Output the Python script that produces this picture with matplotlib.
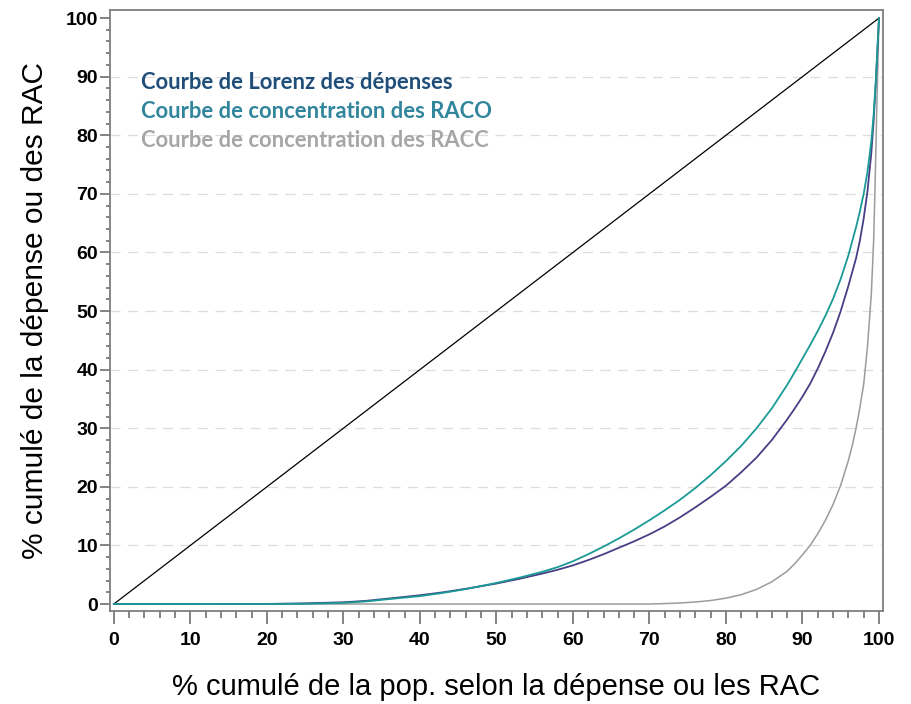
import matplotlib.pyplot as plt
from matplotlib.ticker import MultipleLocator

# Courbes (x = % cumulé de la population, y = % cumulé)
x_lorenz = [0, 10, 20, 25, 30, 33, 36, 40, 43, 46, 50, 53, 56, 58, 60, 62, 64,
            66, 68, 70, 72, 74, 76, 78, 80, 82, 84, 86, 88, 89, 90, 91, 92, 93,
            94, 95, 96, 97, 97.5, 98, 98.5, 99, 99.3, 99.6, 100]
y_lorenz = [0, 0, 0.02, 0.12, 0.3, 0.55, 0.95, 1.5, 2.0, 2.6, 3.5, 4.3, 5.2,
            5.85, 6.6, 7.5, 8.5, 9.6, 10.7, 11.9, 13.25, 14.8, 16.5, 18.3, 20.2,
            22.5, 25.0, 28.0, 31.5, 33.4, 35.4, 37.6, 40.2, 43.1, 46.3, 50.0,
            54.3, 59.0, 62.0, 65.8, 70.5, 77.0, 82.5, 89.5, 100]

x_raco = [0, 10, 20, 25, 30, 33, 36, 40, 43, 46, 50, 53, 56, 58, 60, 62, 64,
          66, 68, 70, 72, 74, 76, 78, 80, 82, 84, 86, 88, 89, 90, 91, 92, 93,
          94, 95, 96, 97, 97.5, 98, 98.5, 99, 99.3, 99.6, 100]
y_raco = [0, 0, 0, 0.05, 0.2, 0.45, 0.85, 1.35, 1.9, 2.55, 3.6, 4.5, 5.5, 6.3,
          7.3, 8.5, 9.8, 11.2, 12.7, 14.3, 16.0, 17.8, 19.8, 22.0, 24.4, 27.0,
          30.0, 33.4, 37.4, 39.6, 41.9, 44.2, 46.6, 49.2, 52.1, 55.5, 59.5,
          64.3, 67.0, 70.0, 73.8, 79.0, 83.5, 89.5, 100]

x_racc = [0, 10, 20, 30, 40, 50, 60, 70, 72, 74, 76, 78, 80, 82, 84, 86, 88, 89,
          90, 91, 92, 93, 94, 95, 96, 96.5, 97, 97.5, 98, 98.5, 99, 99.3, 99.5,
          99.7, 100]
y_racc = [0, 0, 0, 0, 0, 0, 0, 0, 0.08, 0.18, 0.35, 0.6, 1.0, 1.6, 2.5, 3.8,
          5.6, 6.9, 8.4, 10.0, 12.0, 14.3, 17.0, 20.3, 24.5, 27.0, 30.0, 33.5,
          37.5, 44.0, 53.0, 62.0, 72.0, 84.0, 100]

x_egalite = [0, 100]
y_egalite = [0, 100]

libelles = ["Courbe de Lorenz des dépenses",
            "Courbe de concentration des RACO",
            "Courbe de concentration des RACC"]
couleurs_texte = ["#1F4E79", "#31859C", "#A6A6A6"]
couleurs_ligne = ["#463F85", "#1A9A96", "#9B9B9B"]

fig = plt.figure(figsize=(9.12, 7.04), dpi=100)
ax = fig.add_axes([0.1206, 0.132, 0.8474, 0.854])

# grille horizontale en pointillés
for g in range(10, 100, 10):
    ax.axhline(g, color="#DDDDDD", lw=0.9, ls=(0, (8, 6)), zorder=0)

ax.plot(x_egalite, y_egalite, color="black", lw=0.9)
ax.plot(x_racc, y_racc, color=couleurs_ligne[2], lw=1.1)
ax.plot(x_lorenz, y_lorenz, color=couleurs_ligne[0], lw=1.3)
ax.plot(x_raco, y_raco, color=couleurs_ligne[1], lw=1.3)

ax.set_xlim(-0.5, 100.5)
ax.set_ylim(-1.2, 101.4)

ax.xaxis.set_major_locator(MultipleLocator(10))
ax.xaxis.set_minor_locator(MultipleLocator(2))
ax.yaxis.set_major_locator(MultipleLocator(10))
ax.yaxis.set_minor_locator(MultipleLocator(2))

ax.tick_params(axis="x", which="major", length=9.5, width=1.2, color="#6E6E6E", pad=5.5)
ax.tick_params(axis="x", which="minor", length=5, width=1.2, color="#6E6E6E")
ax.tick_params(axis="y", which="major", length=7.5, width=1.2, color="#6E6E6E", pad=1)
ax.tick_params(axis="y", which="minor", length=3, width=1.2, color="#6E6E6E")

for lab in ax.get_xticklabels() + ax.get_yticklabels():
    lab.set_fontfamily("Liberation Sans")
    lab.set_fontweight("bold")
    lab.set_fontsize(14)

for sp in ax.spines.values():
    sp.set_color("#7F7F7F")
    sp.set_linewidth(1.3)

ax.set_xlabel("% cumulé de la pop. selon la dépense ou les RAC",
              fontfamily="Liberation Sans", fontsize=21, labelpad=17)
ax.set_ylabel("% cumulé de la dépense ou des RAC",
              fontfamily="Liberation Sans", fontsize=21.5, labelpad=12)

# légende sous forme de texte coloré
for i, (txt, c) in enumerate(zip(libelles, couleurs_texte)):
    ax.text(0.040, 0.880 - i * 0.0485, txt, transform=ax.transAxes, color=c,
            fontfamily="Lato", fontweight="bold", fontsize=15.8, va="center")

fig.savefig("out.png", dpi=100)
